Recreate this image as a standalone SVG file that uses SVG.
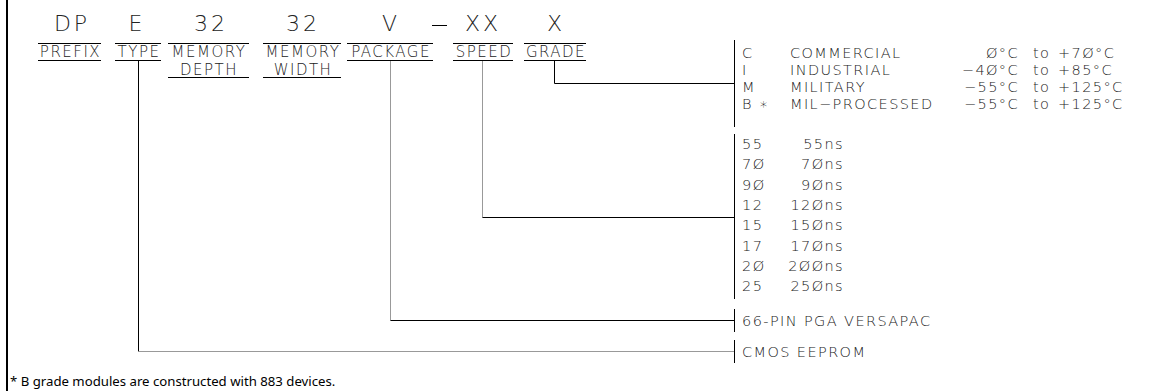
<svg xmlns="http://www.w3.org/2000/svg" width="1154" height="391" viewBox="0 0 1154 391">
<style>
.cad{font-family:"DejaVu Sans","Liberation Sans",sans-serif;font-weight:200;fill:#222;}
.code{font-size:22px;letter-spacing:3px;}
.lbl{font-size:15px;letter-spacing:1.5px;}
.lst{font-size:14.5px;letter-spacing:1.4px;}
.ln{stroke:#000;stroke-width:1;fill:none;}
.gr{stroke:#999;stroke-width:1;fill:none;}
.foot{font-family:"Noto Sans","Liberation Sans",sans-serif;font-size:13.2px;fill:#000;}
</style>
<rect width="1154" height="391" fill="#fff"/>
<line x1="7" y1="0" x2="7" y2="391" stroke="#000" stroke-width="2"/>

<g id="prefix" class="cad">
<text class="code" x="72" y="31" text-anchor="middle">DP</text>
<line class="ln" x1="38" y1="43.5" x2="101" y2="43.5"/>
<text class="lbl" x="70.5" y="57" text-anchor="middle">PREFIX</text>
<line class="ln" x1="38" y1="60.5" x2="101" y2="60.5"/>
</g>
<g id="type" class="cad">
<text class="code" x="137" y="31" text-anchor="middle">E</text>
<line class="ln" x1="115" y1="43.5" x2="161" y2="43.5"/>
<text class="lbl" x="139" y="57" text-anchor="middle">TYPE</text>
<line class="ln" x1="115" y1="60.5" x2="161" y2="60.5"/>
</g>
<g id="memory-depth" class="cad">
<text class="code" x="211" y="31" text-anchor="middle">32</text>
<line class="ln" x1="168" y1="43.5" x2="249" y2="43.5"/>
<text class="lbl" x="209" y="57" text-anchor="middle">MEMORY</text>
<text class="lbl" x="209" y="74.5" text-anchor="middle">DEPTH</text>
<line class="ln" x1="168" y1="77.5" x2="249" y2="77.5"/>
</g>
<g id="memory-width" class="cad">
<text class="code" x="303" y="31" text-anchor="middle">32</text>
<line class="ln" x1="263" y1="43.5" x2="341" y2="43.5"/>
<text class="lbl" x="303" y="57" text-anchor="middle">MEMORY</text>
<text class="lbl" x="303" y="74.5" text-anchor="middle">WIDTH</text>
<line class="ln" x1="263" y1="77.5" x2="341" y2="77.5"/>
</g>
<g id="package" class="cad">
<text class="code" x="391" y="31" text-anchor="middle">V</text>
<line class="ln" x1="347" y1="43.5" x2="433" y2="43.5"/>
<text class="lbl" x="391" y="57" text-anchor="middle">PACKAGE</text>
<line class="ln" x1="347" y1="60.5" x2="433" y2="60.5"/>
</g>
<g id="dash" class="cad">
<line class="ln" x1="432" y1="25.5" x2="447" y2="25.5"/>
</g>
<g id="speed" class="cad">
<text class="code" x="483" y="31" text-anchor="middle">XX</text>
<line class="ln" x1="453" y1="43.5" x2="513" y2="43.5"/>
<text class="lbl" x="484" y="57" text-anchor="middle">SPEED</text>
<line class="ln" x1="453" y1="60.5" x2="513" y2="60.5"/>
</g>
<g id="grade" class="cad">
<text class="code" x="556" y="31" text-anchor="middle">X</text>
<line class="ln" x1="524" y1="43.5" x2="586" y2="43.5"/>
<text class="lbl" x="556" y="57" text-anchor="middle">GRADE</text>
<line class="ln" x1="524" y1="60.5" x2="586" y2="60.5"/>
</g>

<g id="connectors">
<polyline class="ln" points="554.5,61 554.5,83.5 734,83.5"/>
<polyline class="gr" points="482.5,61 482.5,217.5"/>
<line class="ln" x1="482.5" y1="217.5" x2="734" y2="217.5"/>
<polyline class="gr" points="390.5,61 390.5,320.5"/>
<line class="ln" x1="390.5" y1="320.5" x2="734" y2="320.5"/>
<polyline class="ln" points="138.5,61 138.5,351.5"/>
<line class="gr" x1="138.5" y1="351.5" x2="734" y2="351.5"/>
</g>

<g id="grade-list" class="cad lst">
<line class="ln" x1="734.5" y1="40" x2="734.5" y2="127"/>
<text x="742" y="58">C</text><text x="790" y="58">COMMERCIAL</text><text x="1019" y="58" text-anchor="end">Ø°C</text><text x="1033" y="58">to</text><text x="1058" y="58">+7Ø°C</text>
<text x="742" y="75">I</text><text x="790" y="75">INDUSTRIAL</text><text x="1019" y="75" text-anchor="end">−4Ø°C</text><text x="1033" y="75">to</text><text x="1058" y="75">+85°C</text>
<text x="742" y="92">M</text><text x="790" y="92">MILITARY</text><text x="1019" y="92" text-anchor="end">−55°C</text><text x="1033" y="92">to</text><text x="1058" y="92">+125°C</text>
<text x="742" y="109">B ∗</text><text x="790" y="109">MIL−PROCESSED</text><text x="1019" y="109" text-anchor="end">−55°C</text><text x="1033" y="109">to</text><text x="1058" y="109">+125°C</text>
</g>

<g id="speed-list" class="cad lst">
<line class="ln" x1="734.5" y1="134" x2="734.5" y2="299"/>
<text x="742" y="149">55</text><text x="844" y="149" text-anchor="end">55ns</text>
<text x="742" y="169.3">7Ø</text><text x="844" y="169.3" text-anchor="end">7Øns</text>
<text x="742" y="189.6">9Ø</text><text x="844" y="189.6" text-anchor="end">9Øns</text>
<text x="742" y="209.9">12</text><text x="844" y="209.9" text-anchor="end">12Øns</text>
<text x="742" y="230.2">15</text><text x="844" y="230.2" text-anchor="end">15Øns</text>
<text x="742" y="250.5">17</text><text x="844" y="250.5" text-anchor="end">17Øns</text>
<text x="742" y="270.8">2Ø</text><text x="844" y="270.8" text-anchor="end">2ØØns</text>
<text x="742" y="291.1">25</text><text x="844" y="291.1" text-anchor="end">25Øns</text>
</g>

<g id="package-list" class="cad lst">
<line class="ln" x1="734.5" y1="309" x2="734.5" y2="332"/>
<text x="742" y="325.5">66-PIN PGA VERSAPAC</text>
</g>

<g id="type-list" class="cad lst">
<line class="ln" x1="734.5" y1="340" x2="734.5" y2="363"/>
<text x="742" y="356.5">CMOS EEPROM</text>
</g>

<text class="foot" x="10" y="386">* B grade modules are constructed with 883 devices.</text>
</svg>
